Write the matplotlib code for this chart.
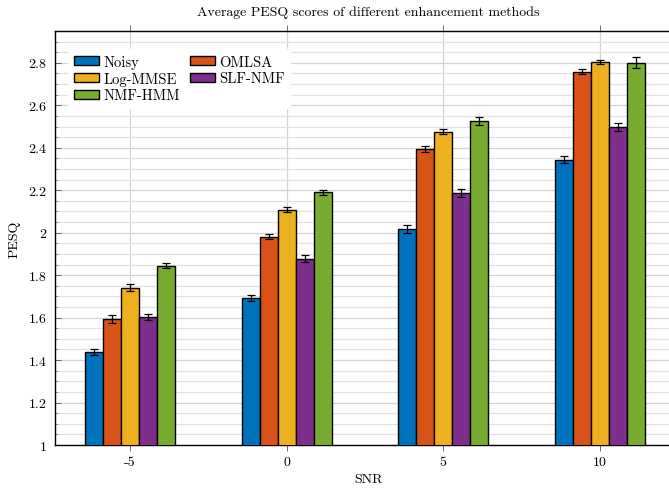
import matplotlib
matplotlib.use("Agg")
import matplotlib.pyplot as plt
from matplotlib.ticker import MultipleLocator
import numpy as np

plt.rcParams['font.family'] = ['cmr10', 'DejaVu Serif']
plt.rcParams['axes.unicode_minus'] = False
plt.rcParams['mathtext.fontset'] = 'cm'

snr_labels = ['-5', '0', '5', '10']
snr = [-5, 0, 5, 10]
methods = ['Noisy', 'OMLSA', 'Log-MMSE', 'SLF-NMF', 'NMF-HMM']
colors = ['#0072BD', '#D95319', '#EDB120', '#7E2F8E', '#77AC30']

noisy = [1.438, 1.693, 2.018, 2.343]
omlsa = [1.594, 1.982, 2.393, 2.758]
logmmse = [1.741, 2.108, 2.475, 2.803]
slfnmf = [1.602, 1.878, 2.187, 2.499]
nmfhmm = [1.844, 2.190, 2.525, 2.800]

err_noisy = [0.014, 0.014, 0.018, 0.016]
err_omlsa = [0.020, 0.013, 0.014, 0.011]
err_logmmse = [0.015, 0.011, 0.012, 0.010]
err_slfnmf = [0.015, 0.015, 0.019, 0.019]
err_nmfhmm = [0.011, 0.012, 0.018, 0.026]

values = [noisy, omlsa, logmmse, slfnmf, nmfhmm]
errors = [err_noisy, err_omlsa, err_logmmse, err_slfnmf, err_nmfhmm]

fig = plt.figure(figsize=(6.69, 4.89), dpi=100)
W, H = 669, 489
AX_L, AX_R, AX_T, AX_B = 55, 681, 32, 446
ax = fig.add_axes([AX_L / W, 1 - AX_B / H, (AX_R - AX_L) / W, (AX_B - AX_T) / H])

bw = 0.575
x = np.array(snr, dtype=float)
handles = []
for i, (m, v, e, c) in enumerate(zip(methods, values, errors, colors)):
    off = (i - 2) * bw
    b = ax.bar(x + off, v, width=bw, bottom=0, color=c, edgecolor='black',
               linewidth=1.0, label=m, zorder=3)
    ax.errorbar(x + off, v, yerr=e, fmt='none', ecolor='black', elinewidth=0.9,
                capsize=2.6, capthick=0.9, zorder=4)
    handles.append(b)

ax.set_xlim(-7.4, 12.6)
ax.set_ylim(1, 2.95)
ax.set_xticks(snr)
ax.set_xticklabels(snr_labels)
ax.set_yticks([1, 1.2, 1.4, 1.6, 1.8, 2, 2.2, 2.4, 2.6, 2.8])
ax.set_yticklabels(['1', '1.2', '1.4', '1.6', '1.8', '2', '2.2', '2.4', '2.6', '2.8'])
ax.yaxis.set_minor_locator(MultipleLocator(0.05))

ax.grid(True, which='major', axis='both', color='#d4d4d4', linewidth=0.9, zorder=0)
ax.grid(True, which='minor', axis='y', color='#e2e2e2', linewidth=0.9, zorder=0)
ax.set_axisbelow(True)

ax.tick_params(axis='x', which='major', direction='out', length=4, width=0.6,
               labelsize=10, top=True, labeltop=False, color='#555555')
ax.tick_params(axis='y', which='major', direction='in', length=4, width=0.6,
               labelsize=10, right=False, pad=6, color='#555555')
ax.tick_params(axis='y', which='minor', direction='in', length=2, width=0.5, color='#777777')
for s in ax.spines.values():
    s.set_linewidth(1.0)

ax.set_xlabel('SNR', fontsize=10, labelpad=4)
ax.set_ylabel('PESQ', fontsize=10, labelpad=6)
fig.text(368 / W, 1 - 13 / H, 'Average PESQ scores of different enhancement methods',
         ha='center', va='center', fontsize=10)

order = [0, 2, 4, 1, 3]
axw, axh = AX_R - AX_L, AX_B - AX_T
leg = ax.legend([handles[k] for k in order], [methods[k] for k in order],
                loc='upper left', bbox_to_anchor=((68 - AX_L) / axw, 1 - (50 - AX_T) / axh),
                ncol=2, frameon=True, fontsize=10.5, handlelength=1.75, handleheight=0.6,
                handletextpad=0.25, columnspacing=0.7, labelspacing=0.2,
                borderpad=0.4, borderaxespad=0, fancybox=False)
leg.get_frame().set_edgecolor('white')
leg.get_frame().set_facecolor('white')
leg.get_frame().set_alpha(1)

fig.savefig('out.png', dpi=100)
